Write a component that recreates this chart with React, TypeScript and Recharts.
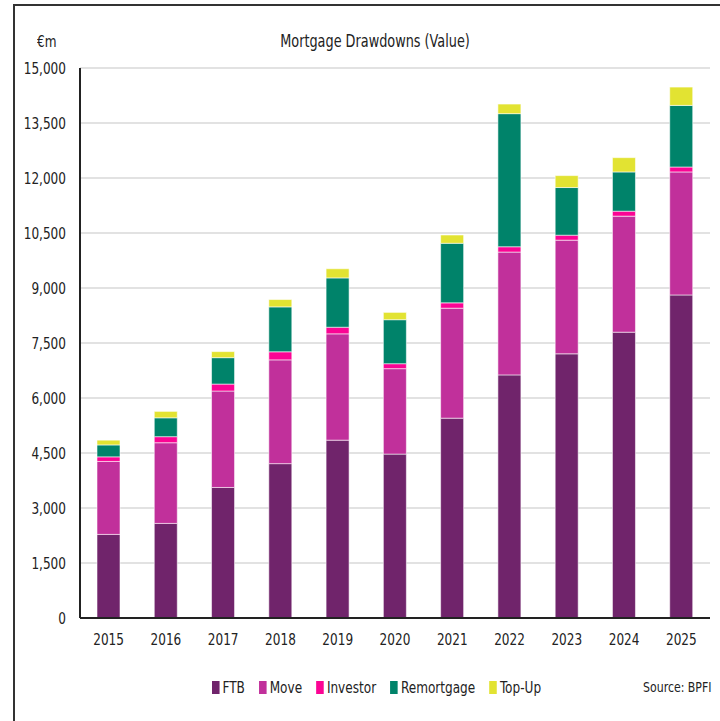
import { BarChart, Bar, XAxis, YAxis, CartesianGrid } from "recharts";

const years = ["2015", "2016", "2017", "2018", "2019", "2020", "2021", "2022", "2023", "2024", "2025"];
const ftb = [2280, 2580, 3560, 4210, 4850, 4470, 5450, 6630, 7205, 7795, 8810];
const move = [1990, 2200, 2630, 2830, 2900, 2330, 3000, 3350, 3100, 3165, 3355];
const investor = [125, 165, 190, 220, 180, 135, 145, 145, 135, 135, 135];
const remortgage = [325, 515, 720, 1225, 1345, 1200, 1625, 3630, 1300, 1070, 1680];
const topUp = [130, 175, 165, 200, 250, 200, 225, 260, 325, 390, 500];
const yTicks = [0, 1500, 3000, 4500, 6000, 7500, 9000, 10500, 12000, 13500, 15000];

const series = [
  { key: "FTB", color: "#70246b" },
  { key: "Move", color: "#c1309b" },
  { key: "Investor", color: "#fb0494" },
  { key: "Remortgage", color: "#00836a" },
  { key: "Top-Up", color: "#e2e332" },
];

const data = years.map((year, i) => ({
  year,
  FTB: ftb[i],
  Move: move[i],
  Investor: investor[i],
  Remortgage: remortgage[i],
  "Top-Up": topUp[i],
}));

const font = '"DejaVu Sans Condensed", "DejaVu Sans", sans-serif';
const squeeze = 0.84;

// narrow text: the original uses a condensed face we don't have
function NarrowTick(props: any) {
  const { x, y, payload, textAnchor, formatter, shift } = props;
  const label = formatter ? formatter(payload.value) : payload.value;
  return (
    <text
      x={x}
      y={y}
      dy={shift}
      textAnchor={textAnchor}
      fill="#222"
      fontSize={16}
      fontFamily={font}
      transform={`translate(${x},0) scale(${squeeze},1) translate(${-x},0)`}
    >
      {label}
    </text>
  );
}

const narrow = (origin: string) => ({
  transform: `scaleX(${squeeze})`,
  transformOrigin: origin,
  whiteSpace: "nowrap" as const,
});

function LegendBox() {
  return (
    <div style={{ position: "absolute", left: 212, top: 678, display: "flex", alignItems: "center", fontSize: 16, color: "#222", ...narrow("left center") }}>
      {series.map((s) => (
        <div key={s.key} style={{ display: "flex", alignItems: "center", marginRight: 17 }}>
          <span style={{ display: "inline-block", width: 8.5, height: 13, background: s.color, marginRight: 4 }} />
          <span>{s.key}</span>
        </div>
      ))}
    </div>
  );
}

export default function App() {
  const fmt = (v: number) => v.toLocaleString("en-US");
  return (
    <div style={{ position: "fixed", left: 0, top: 0, width: 720, height: 721, overflow: "hidden", background: "#fff", fontFamily: font }}>
      <div style={{ position: "absolute", left: 13, top: 4, width: 900, height: 900, border: "2px solid #333" }} />
      <div style={{ position: "absolute", left: 0, top: 31, width: 750, textAlign: "center", fontSize: 17, color: "#222", ...narrow("center") }}>
        Mortgage Drawdowns (Value)
      </div>
      <div style={{ position: "absolute", left: 37, top: 32, fontSize: 16, color: "#222", ...narrow("left") }}>€m</div>
      <div style={{ position: "absolute", right: 9, top: 679, fontSize: 14.5, color: "#222", ...narrow("right") }}>Source: BPFI</div>
      <LegendBox />
      <BarChart
        width={720}
        height={721}
        data={data}
        margin={{ top: 68, right: 10, bottom: 73, left: 0 }}
        style={{ position: "absolute", left: 0, top: 0 }}
      >
        <CartesianGrid vertical={false} stroke="#d9d9d9" strokeWidth={1.5} />
        <XAxis
          dataKey="year"
          height={30}
          tickLine={false}
          tickMargin={10}
          axisLine={{ stroke: "#222", strokeWidth: 2 }}
          tick={<NarrowTick shift="0.71em" />}
          interval={0}
        />
        <XAxis xAxisId="top" orientation="top" dataKey="year" height={0} tick={false} tickLine={false} axisLine={{ stroke: "#333", strokeWidth: 2 }} />
        <YAxis
          width={80}
          domain={[0, 15000]}
          ticks={yTicks}
          tickLine={false}
          tickMargin={8}
          axisLine={{ stroke: "#222", strokeWidth: 2 }}
          tick={<NarrowTick formatter={fmt} shift="0.36em" />}
        />
        <YAxis yAxisId="right" orientation="right" width={0} tick={false} tickLine={false} axisLine={{ stroke: "#888", strokeWidth: 2 }} />
        {series.map((s) => (
          <Bar
            key={s.key}
            dataKey={s.key}
            stackId="a"
            fill={s.color}
            barSize={23}
            stroke="rgba(255,255,255,0.55)"
            strokeWidth={1}
            isAnimationActive={false}
          />
        ))}
      </BarChart>
    </div>
  );
}
